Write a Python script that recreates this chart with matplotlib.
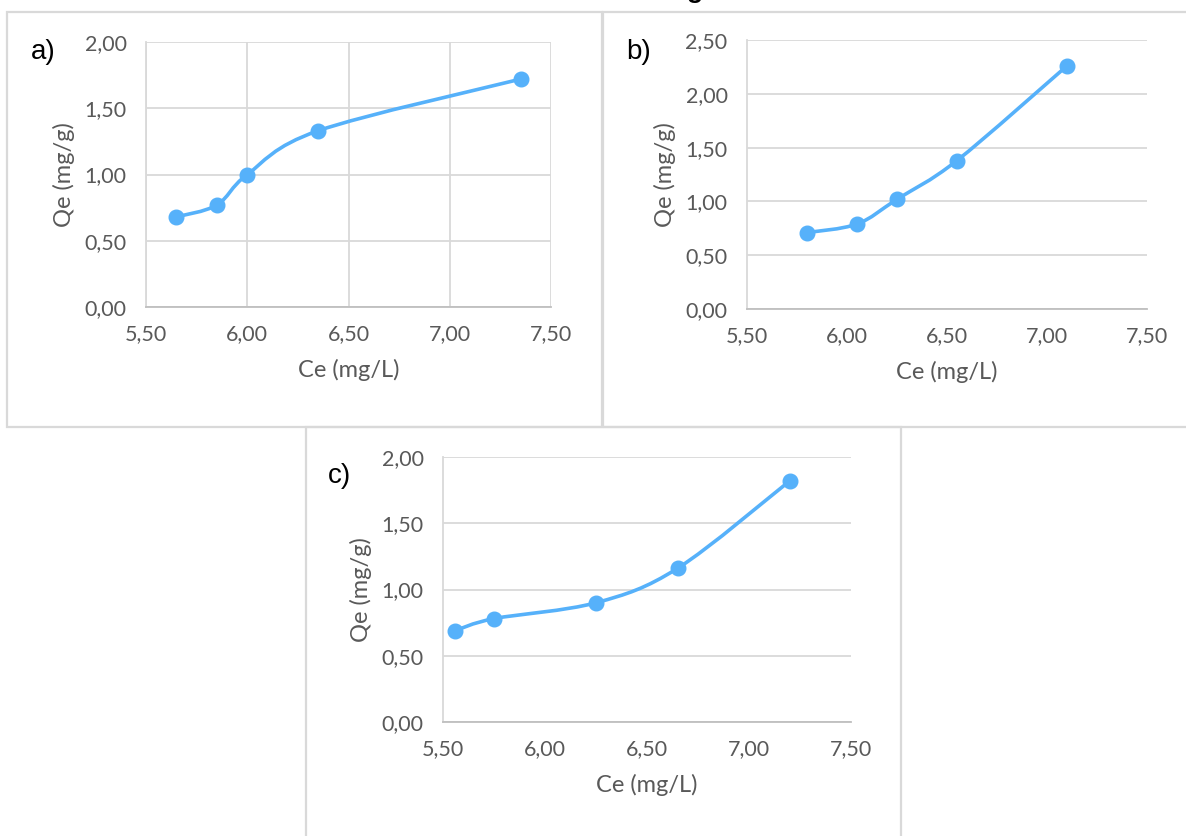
import numpy as np
import matplotlib
matplotlib.use('Agg')
import matplotlib.pyplot as plt
from matplotlib.path import Path
from matplotlib.patches import PathPatch, Rectangle
from matplotlib.ticker import FuncFormatter, MultipleLocator

# 数据
ce_a = [5.65, 5.85, 6.00, 6.35, 7.35]
qe_a = [0.68, 0.77, 1.00, 1.33, 1.72]

ce_b = [5.80, 6.05, 6.25, 6.55, 7.10]
qe_b = [0.71, 0.79, 1.02, 1.38, 2.26]

ce_c = [5.56, 5.75, 6.25, 6.65, 7.20]
qe_c = [0.69, 0.78, 0.90, 1.16, 1.82]

x_label = 'Ce (mg/L)'
y_label = 'Qe (mg/g)'

blue = '#56B1FA'
grid_c = '#D9D9D9'
text_c = '#595959'

plt.rcParams['font.family'] = ['Lato', 'DejaVu Sans']

fig = plt.figure(figsize=(11.86, 8.36), dpi=100)
W, H = 1186, 836


def px_axes(x0, y0, x1, y1):
    # 像素坐标 -> figure 坐标
    return fig.add_axes([x0 / W, 1 - y1 / H, (x1 - x0) / W, (y1 - y0) / H])


def smooth_path(xs, ys):
    # 类似 Excel 的平滑线 (Catmull-Rom -> Bezier)
    pts = np.column_stack([xs, ys])
    ext = np.vstack([pts[0], pts, pts[-1]])
    verts = [pts[0]]
    codes = [Path.MOVETO]
    for i in range(len(pts) - 1):
        p0, p1, p2, p3 = ext[i], ext[i + 1], ext[i + 2], ext[i + 3]
        verts += [p1 + (p2 - p0) / 6, p2 - (p3 - p1) / 6, p2]
        codes += [Path.CURVE4] * 3
    return Path(verts, codes)


comma = FuncFormatter(lambda v, pos: f'{v:.2f}'.replace('.', ','))


def draw_panel(ax, xs, ys, ymax, xgrid=False):
    ax.set_xlim(5.5, 7.5)
    ax.set_ylim(0, ymax)
    ax.xaxis.set_major_locator(MultipleLocator(0.5))
    ax.yaxis.set_major_locator(MultipleLocator(0.5))
    ax.xaxis.set_major_formatter(comma)
    ax.yaxis.set_major_formatter(comma)
    ax.tick_params(length=0, labelsize=15.5, labelcolor=text_c)
    ax.tick_params(axis='y', pad=14)
    ax.tick_params(axis='x', pad=12)
    ax.grid(axis='y', color=grid_c, lw=1.3)
    if xgrid:
        ax.grid(axis='x', color=grid_c, lw=1.3)
    for s in ['top', 'right']:
        ax.spines[s].set_visible(False)
    ax.spines['left'].set_color(grid_c)
    ax.spines['left'].set_linewidth(1.3)
    ax.spines['bottom'].set_color('#BFBFBF')
    ax.spines['bottom'].set_linewidth(1.3)
    ax.set_axisbelow(True)
    ax.add_patch(PathPatch(smooth_path(xs, ys), fill=False, edgecolor=blue,
                           lw=2.6, capstyle='round', zorder=3))
    ax.plot(xs, ys, 'o', color=blue, ms=10.5, zorder=4, clip_on=False)
    ax.set_xlabel(x_label, fontsize=17, color=text_c, labelpad=11)
    ax.set_ylabel(y_label, fontsize=17, color=text_c, labelpad=7)


ax1 = px_axes(146, 42, 551, 307)
draw_panel(ax1, ce_a, qe_a, 2.0, xgrid=True)

ax2 = px_axes(747, 40, 1147, 309)
draw_panel(ax2, ce_b, qe_b, 2.5)

ax3 = px_axes(443, 457, 851, 722)
draw_panel(ax3, ce_c, qe_c, 2.0)

# 外框
for (x0, y0, x1, y1) in [(7, 12, 602, 427), (603, 12, 1200, 427), (306, 427, 901, 850)]:
    fig.add_artist(Rectangle((x0 / W, 1 - y1 / H), (x1 - x0) / W, (y1 - y0) / H,
                             transform=fig.transFigure, fill=False,
                             edgecolor=grid_c, lw=1.6))

# 子图编号
for lab, x, y in [('a)', 31, 52), ('b)', 626, 52), ('c)', 328, 476)]:
    fig.text(x / W, 1 - y / H, lab, fontsize=20, color='black',
             family=['Liberation Sans', 'DejaVu Sans'], va='center', ha='left')

# 被截掉的标题
fig.text(695 / W, 1 + 2 / H, 'g', fontsize=19, fontweight='bold', color='black',
         family=['Liberation Sans', 'DejaVu Sans'], ha='center', va='baseline')

fig.savefig('out.png', dpi=100)
